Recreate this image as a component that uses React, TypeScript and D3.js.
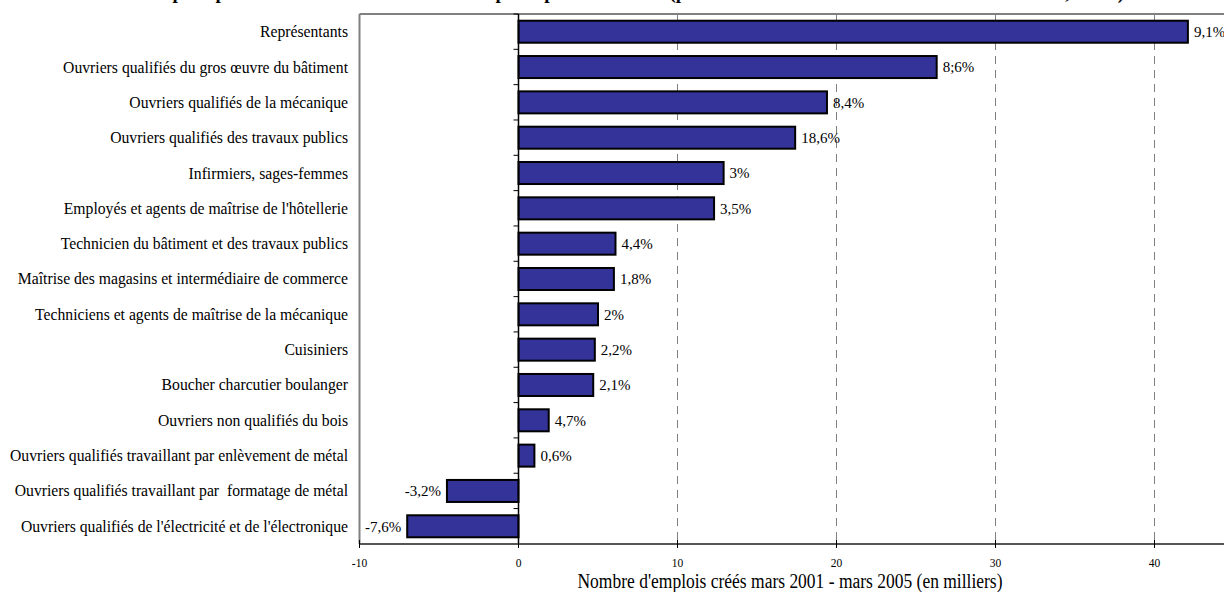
import React from 'react';
import * as d3 from 'd3';

// categories, top to bottom
const categories: string[] = [
  'Représentants',
  'Ouvriers qualifiés du gros œuvre du bâtiment',
  'Ouvriers qualifiés de la mécanique',
  'Ouvriers qualifiés des travaux publics',
  'Infirmiers, sages-femmes',
  "Employés et agents de maîtrise de l'hôtellerie",
  'Technicien du bâtiment et des travaux publics',
  'Maîtrise des magasins et intermédiaire de commerce',
  'Techniciens et agents de maîtrise de la mécanique',
  'Cuisiniers',
  'Boucher charcutier boulanger',
  'Ouvriers non qualifiés du bois',
  'Ouvriers qualifiés travaillant par enlèvement de métal',
  'Ouvriers qualifiés travaillant par  formatage de métal',
  "Ouvriers qualifiés de l'électricité et de l'électronique",
];

// jobs created, thousands
const values: number[] = [42.1, 26.3, 19.4, 17.4, 12.9, 12.3, 6.1, 6.0, 5.0, 4.8, 4.7, 1.9, 1.0, -4.5, -7.0];

// labels printed next to the bars
const valueLabels: string[] = [
  '9,1%', '8;6%', '8,4%', '18,6%', '3%', '3,5%', '4,4%', '1,8%', '2%', '2,2%', '2,1%', '4,7%', '0,6%', '-3,2%', '-7,6%',
];

const xTicks: number[] = [-10, 0, 10, 20, 30, 40];
const gridTicks: number[] = [10, 20, 30, 40];

// title is cut by the top of the picture, only its descenders show
const title =
  "Créations d'emplois par métier entre 2001 et 2005 : les principales créations (part de la hausse des effectifs entre 2001 et 2005, en %)";
const xTitle = "Nombre d'emplois créés mars 2001 - mars 2005 (en milliers)";

const W = 1224;
const H = 592;
const plot = { left: 359.5, top: 14, bottom: 544 };
const font = "'Liberation Serif', 'Times New Roman', serif";

const App = () => {
  const x = d3.scaleLinear().domain([-10, 50]).range([plot.left, plot.left + 60 * 15.9]);
  const y = d3
    .scaleBand<string>()
    .domain(categories)
    .range([plot.top, plot.bottom])
    .paddingInner(0.377)
    .paddingOuter(0.19);
  const step = y.step();
  const x0 = x(0);

  return (
    <div style={{ position: 'absolute', left: 0, top: 0 }}>
      <svg width={W} height={H} style={{ display: 'block', background: '#fff' }} fontFamily={font}>
        <text x={48} y={-1} fontSize={19.1} fontWeight="bold">
          {title}
        </text>

        {/* dashed gridlines */}
        {gridTicks.map((t) => (
          <line
            key={t}
            x1={x(t)}
            x2={x(t)}
            y1={plot.top}
            y2={plot.bottom}
            stroke="#808080"
            strokeWidth={1}
            strokeDasharray="8,6"
          />
        ))}

        {/* frame */}
        <line x1={plot.left} x2={W} y1={plot.top} y2={plot.top} stroke="#808080" strokeWidth={2} />
        <line x1={plot.left} x2={plot.left} y1={plot.top} y2={plot.bottom} stroke="#808080" strokeWidth={2} />

        {/* bars */}
        {values.map((v, i) => {
          const yy = y(categories[i]) as number;
          return (
            <rect
              key={i}
              x={Math.min(x(v), x0)}
              y={yy}
              width={Math.abs(x(v) - x0)}
              height={y.bandwidth()}
              fill="#333399"
              stroke="#000"
              strokeWidth={2}
            />
          );
        })}

        {/* value labels */}
        {values.map((v, i) => {
          const yc = (y(categories[i]) as number) + y.bandwidth() / 2;
          const pos = v >= 0;
          return (
            <text
              key={i}
              x={pos ? x(v) + 6 : x(v) - 6}
              y={yc}
              dy="0.35em"
              textAnchor={pos ? 'start' : 'end'}
              fontSize={15}
            >
              {valueLabels[i]}
            </text>
          );
        })}

        {/* zero axis with category ticks */}
        <line x1={x0} x2={x0} y1={plot.top} y2={plot.bottom} stroke="#000" strokeWidth={1.5} />
        {d3.range(categories.length + 1).map((k) => (
          <line
            key={k}
            x1={x0 - 5}
            x2={x0}
            y1={plot.top + k * step}
            y2={plot.top + k * step}
            stroke="#000"
            strokeWidth={1}
          />
        ))}

        {/* category labels */}
        {categories.map((c) => (
          <text
            key={c}
            x={348}
            y={(y(c) as number) + y.bandwidth() / 2}
            dy="0.35em"
            textAnchor="end"
            fontSize={15.7}
            style={{ whiteSpace: 'pre' }}
          >
            {c}
          </text>
        ))}

        {/* bottom axis */}
        <line x1={plot.left} x2={W} y1={plot.bottom} y2={plot.bottom} stroke="#555" strokeWidth={2} />
        {xTicks.map((t) => (
          <g key={t}>
            <line x1={x(t)} x2={x(t)} y1={plot.bottom - 4} y2={plot.bottom + 4} stroke="#000" strokeWidth={1} />
            <text x={x(t)} y={567} textAnchor="middle" fontSize={11.5}>
              {t}
            </text>
          </g>
        ))}
        <text
          x={790}
          y={588}
          textAnchor="middle"
          fontSize={20}
          textLength={425}
          lengthAdjust="spacingAndGlyphs"
        >
          {xTitle}
        </text>
      </svg>
    </div>
  );
};

export default App;
